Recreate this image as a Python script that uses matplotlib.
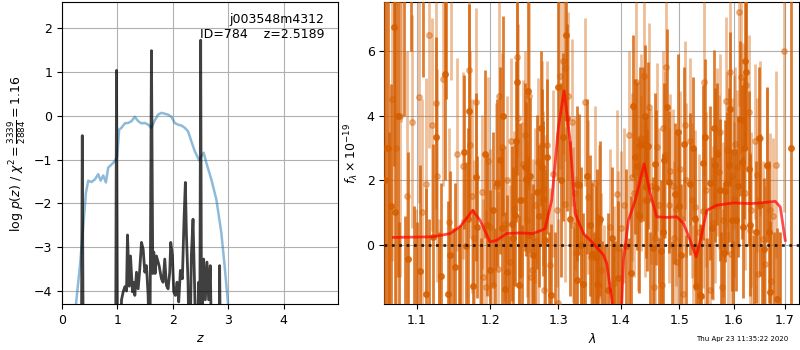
import matplotlib
matplotlib.use('Agg')
import matplotlib.pyplot as plt
import numpy as np

# ---- left panel: redshift probability ----
z_pdf = [0.20, 0.348, 0.366, 0.384, 0.966, 0.984, 1.002, 1.044, 1.074, 1.104, 1.134,
         1.164, 1.182, 1.212, 1.236, 1.272, 1.296, 1.314, 1.344, 1.374, 1.404, 1.434,
         1.464, 1.494, 1.524, 1.554, 1.584, 1.614, 1.638, 1.656, 1.680, 1.704, 1.752,
         1.794, 1.824, 1.854, 1.884, 1.914, 1.944, 1.962, 1.992, 2.016, 2.046, 2.076,
         2.106, 2.136, 2.172, 2.202, 2.226, 2.244, 2.274, 2.304, 2.334, 2.364, 2.394,
         2.424, 2.466, 2.484, 2.502, 2.520, 2.544, 2.556, 2.586, 2.616, 2.646, 2.676,
         2.706, 2.832, 2.844, 2.862, 3.00]
logp = [-6.0, -6.0, -0.45, -6.0, -6.0, 1.04, -6.0, -6.0, -4.20, -4.02, -3.90,
        -4.00, -2.72, -3.89, -3.20, -4.02, -3.80, -4.10, -3.57, -3.95, -3.49, -2.89,
        -3.04, -3.57, -3.42, -4.10, -6.0, 1.49, -3.60, -3.11, -3.60, -3.20, -3.42,
        -3.72, -3.80, -3.27, -3.87, -3.95, -3.57, -2.89, -3.19, -4.02, -4.10, -3.80,
        -4.25, -3.53, -3.72, -2.36, -1.52, -2.66, -3.80, -6.0, -3.19, -2.36, -3.95,
        -6.0, -3.80, -6.0, 1.73, -6.0, -3.60, -3.27, -4.20, -3.34, -4.20, -3.42,
        -6.0, -6.0, -3.42, -6.0, -6.0]

z_chi = [0.20, 0.252, 0.324, 0.384, 0.432, 0.474, 0.534, 0.594, 0.654, 0.696, 0.744,
         0.792, 0.834, 0.894, 0.954, 0.996, 1.032, 1.074, 1.134, 1.194, 1.254, 1.314,
         1.374, 1.434, 1.494, 1.554, 1.614, 1.674, 1.734, 1.794, 1.854, 1.914, 1.974,
         2.034, 2.094, 2.154, 2.214, 2.274, 2.334, 2.394, 2.472, 2.514, 2.556, 2.604,
         2.694, 2.784, 2.874, 2.934, 2.994, 3.05]
chi_norm = [-6.0, -4.30, -3.42, -2.51, -1.75, -1.48, -1.51, -1.45, -1.33, -1.48, -1.36,
            -1.52, -1.18, -1.11, -1.03, -0.92, -0.31, -0.27, -0.17, -0.16, -0.12, -0.02,
            -0.12, -0.17, -0.16, -0.20, -0.27, -0.10, 0.03, 0.07, 0.05, 0.03, -0.02,
            -0.16, -0.20, -0.22, -0.27, -0.35, -0.58, -0.80, -1.01, -0.92, -0.84, -1.07,
            -1.45, -1.90, -2.66, -3.42, -4.27, -6.0]

# ---- right panel: 1D spectrum (G141, two beams) ----
wave_a = [1.0597, 1.0650, 1.0675, 1.0710, 1.0760, 1.0830, 1.0888, 1.0960, 1.1039, 1.1117,
          1.1218, 1.1258, 1.1324, 1.1370, 1.1414, 1.1445, 1.1505, 1.1560, 1.1633, 1.1660,
          1.1706, 1.1752, 1.1795, 1.1817, 1.1958, 1.2039, 1.2100, 1.2139, 1.2187, 1.2211,
          1.2245, 1.2307, 1.2331, 1.2355, 1.2389, 1.2418, 1.2428, 1.2502, 1.2517, 1.2551,
          1.2576, 1.2616, 1.2676, 1.2715, 1.2751, 1.2775, 1.2801, 1.2836, 1.2888, 1.3005,
          1.3083, 1.3145, 1.3186, 1.3291, 1.3301, 1.3332, 1.3396, 1.3449, 1.3501, 1.3528,
          1.3597, 1.3608, 1.3624, 1.3700, 1.3798, 1.3870, 1.3951, 1.4084, 1.4173, 1.4229,
          1.4269, 1.4324, 1.4364, 1.4422, 1.4439, 1.4456, 1.4535, 1.4598, 1.4679, 1.4742,
          1.4794, 1.4824, 1.4930, 1.4977, 1.5037, 1.5090, 1.5197, 1.5275, 1.5305, 1.5378,
          1.5396, 1.5427, 1.5457, 1.5561, 1.5635, 1.5650, 1.5733, 1.5808, 1.5840, 1.5872,
          1.5902, 1.5965, 1.6047, 1.6110, 1.6156, 1.6168, 1.6219, 1.6238, 1.6282, 1.6315,
          1.6432, 1.6510, 1.6588, 1.6641, 1.6706, 1.6840, 1.7118]
flux_a = [2.00, -2.50, 1.19, 6.75, 4.00, 8.50, -0.44, -2.60, -0.82, -1.54,
          0.22, 3.35, -0.98, 5.30, -1.55, -0.33, -0.69, -2.40, 2.87, -0.05,
          4.15, -1.29, 2.09, 0.55, 0.60, 1.08, 1.92, 2.61, 3.98, -1.39,
          -0.85, 0.65, 0.21, 0.91, 5.05, -1.27, 1.37, 2.40, 2.03, 4.75,
          2.13, -0.33, 1.63, 0.88, 2.42, 1.42, 0.13, 2.73, -1.57, 4.90,
          3.33, 3.93, 0.80, -1.10, 1.89, 1.86, -1.23, 2.11, 0.59, -0.28,
          -0.40, 0.15, -1.26, -2.30, -1.41, -2.50, -1.05, -0.05, -0.88, 2.73,
          2.43, 3.10, 3.12, 1.78, 1.37, 3.07, -0.12, 1.76, -0.20, 2.61,
          4.28, 1.94, 1.58, 3.50, -0.33, 3.12, 1.89, 0.80, -1.29, -1.57,
          -1.59, 2.54, 3.35, 1.91, 3.62, 2.47, 1.70, -0.26, 1.66, 1.91,
          2.47, 0.77, 0.75, 3.90, 2.56, 0.55, 5.70, 5.34, 2.35, 0.60,
          0.39, 1.22, -0.15, 2.48, -1.46, -1.70, 3.00]
err_a = [30.0, 6.0, 3.8, 4.3, 5.0, 4.5, 3.3, 3.8, 3.3, 3.3,
         2.9, 3.1, 2.9, 3.3, 2.9, 2.6, 2.6, 2.9, 2.4, 2.6,
         3.3, 2.4, 2.6, 2.2, 2.2, 2.4, 2.6, 2.9, 3.1, 2.4,
         2.4, 2.4, 2.2, 2.2, 2.9, 2.2, 2.4, 2.6, 2.4, 2.9,
         2.4, 2.2, 2.4, 2.2, 2.4, 2.4, 2.2, 2.4, 2.2, 2.9,
         2.6, 2.9, 2.4, 2.2, 2.4, 2.2, 2.2, 2.4, 2.2, 2.2,
         2.2, 2.2, 2.2, 2.4, 2.4, 2.6, 2.4, 2.4, 2.4, 2.4,
         2.6, 2.4, 2.4, 2.2, 2.2, 2.6, 2.2, 2.4, 2.2, 2.4,
         2.4, 2.2, 2.2, 2.4, 2.2, 2.4, 2.2, 2.2, 2.2, 2.2,
         2.2, 2.4, 2.4, 2.4, 2.4, 2.4, 2.2, 2.2, 2.2, 2.2,
         2.4, 2.2, 2.2, 2.4, 2.4, 2.2, 2.6, 2.4, 2.4, 2.2,
         2.2, 2.2, 2.2, 2.4, 2.2, 2.2, 30.0]

# beam A pixels whose points fall outside the plotted flux range
wave_a_off = [1.0630, 1.0720, 1.0770, 1.0850, 1.0920, 1.1000, 1.1080, 1.1160, 1.1290, 1.1390,
              1.1480, 1.1580, 1.1690, 1.1870, 1.1920, 1.2000, 1.2060, 1.2160, 1.2270, 1.2370,
              1.2460, 1.2540, 1.2650, 1.2740, 1.2860, 1.2950, 1.3050, 1.3120, 1.3240, 1.3360,
              1.3420, 1.3560, 1.3660, 1.3740, 1.3850, 1.3900, 1.4010, 1.4130, 1.4200, 1.4300,
              1.4400, 1.4490, 1.4570, 1.4640, 1.4720, 1.4880, 1.5000, 1.5130, 1.5240, 1.5340,
              1.5510, 1.5590, 1.5690, 1.5760, 1.5930, 1.5990, 1.6080, 1.6200, 1.6380, 1.6480,
              1.6550, 1.6680, 1.6770, 1.6900]
flux_a_off = [3.0, 1.0, -2.8, -2.3, 9.5, -2.5, 8.4, -2.2, -2.6, 9.0,
              -2.1, -2.0, 0.8, -2.4, 2.8, -0.8, -2.1, 0.5, -2.3, 3.2,
              -2.0, 0.3, -2.4, 3.6, -2.2, -2.0, 2.0, 6.5, -2.1, 0.0,
              -2.3, -2.0, 0.8, -2.6, 0.2, -2.3, -2.5, -2.2, 4.3, 0.9,
              4.0, -2.0, 2.5, -2.2, 0.4, -2.3, 1.2, -2.1, 3.0, -2.4,
              -2.2, 0.5, 2.8, -2.0, 4.2, -2.3, 1.8, 3.0, -2.1, 3.3,
              -2.5, 0.4, -2.0, -2.6]
err_a_off = [8.0, 7.0, 3.5, 3.2, 3.5, 3.2, 3.2, 3.0, 3.0, 4.5,
             2.6, 2.6, 2.8, 2.6, 2.6, 2.5, 2.6, 2.5, 2.6, 2.5,
             2.6, 2.4, 2.6, 2.4, 2.6, 2.4, 3.0, 2.5, 2.6, 2.4,
             2.6, 2.4, 2.4, 2.6, 2.2, 2.4, 2.4, 2.4, 2.2, 2.4,
             2.2, 2.4, 2.2, 2.4, 2.4, 2.4, 2.2, 2.4, 2.2, 2.4,
             2.4, 2.2, 2.2, 2.4, 2.4, 2.4, 2.2, 2.2, 2.4, 2.2,
             2.4, 2.2, 2.4, 3.0]

wave_b = [1.0740, 1.0800, 1.0944, 1.1033, 1.1126, 1.1205, 1.1258, 1.1270, 1.1351, 1.1427,
          1.1624, 1.1706, 1.1712, 1.1772, 1.1804, 1.1887, 1.1892, 1.1935, 1.1996, 1.2034,
          1.2114, 1.2120, 1.2163, 1.2211, 1.2235, 1.2283, 1.2341, 1.2380, 1.2395, 1.2462,
          1.2476, 1.2536, 1.2566, 1.2601, 1.2626, 1.2651, 1.2701, 1.2751, 1.2776, 1.2786,
          1.2827, 1.2877, 1.2979, 1.3030, 1.3072, 1.3108, 1.3113, 1.3212, 1.3225, 1.3280,
          1.3428, 1.3475, 1.3618, 1.3646, 1.3678, 1.3825, 1.3935, 1.3962, 1.4061, 1.4195,
          1.4251, 1.4285, 1.4341, 1.4381, 1.4398, 1.4467, 1.4552, 1.4610, 1.4650, 1.4696,
          1.4754, 1.4772, 1.4812, 1.4842, 1.4883, 1.4942, 1.4959, 1.5019, 1.5060, 1.5096,
          1.5185, 1.5228, 1.5287, 1.5420, 1.5439, 1.5487, 1.5548, 1.5610, 1.5684, 1.5715,
          1.5778, 1.5797, 1.5859, 1.5872, 1.5922, 1.5947, 1.5966, 1.5997, 1.6029, 1.6061,
          1.6093, 1.6174, 1.6238, 1.6282, 1.6302, 1.6329, 1.6413, 1.6446, 1.6458, 1.6563,
          1.6641, 1.6692, 1.6719, 1.6825, 1.6970]
flux_b = [3.00, 7.80, 3.81, 4.59, 1.87, 3.72, 4.39, 2.14, 5.13, 0.70,
          2.45, 5.41, 3.09, 0.21, 4.43, 1.63, -1.00, -1.33, 0.55, -1.26,
          -0.77, 4.62, 3.04, 0.65, 2.01, -0.54, 1.11, 5.82, 3.93, 1.39,
          2.51, 0.77, 4.60, -0.79, 0.24, 1.22, 2.56, 3.10, 1.73, -1.41,
          3.10, -0.64, 1.08, 5.24, 5.70, 5.49, 1.25, 3.79, 0.62, -0.26,
          4.43, 1.47, -1.23, 0.70, -0.79, 0.55, 1.56, -0.12, 1.22, 2.09,
          5.05, 0.96, 3.30, 5.24, 1.39, 4.26, -1.31, 3.02, 1.22, -1.26,
          2.79, 5.52, 1.22, 2.28, 1.80, 1.11, -0.54, 2.35, -1.52, 3.71,
          3.20, 1.37, 1.16, 1.04, 5.05, 1.70, -1.41, 0.67, 2.87, 2.25,
          -1.31, 0.77, 4.46, 2.94, 5.36, -0.30, 2.14, 2.87, 3.12, 2.40,
          7.20, 3.85, 4.95, 4.10, 0.46, 1.08, 3.20, 2.16, -0.92, 0.18,
          2.45, 1.06, -1.12, 2.48, 6.00]
err_b = [6.0, 4.0, 3.3, 3.3, 3.3, 3.3, 3.3, 3.3, 3.3, 2.9,
         2.9, 2.9, 2.9, 2.4, 2.9, 2.4, 2.4, 2.4, 2.4, 2.4,
         2.4, 2.9, 2.9, 2.4, 2.6, 2.4, 2.4, 3.1, 2.9, 2.4,
         2.6, 2.4, 2.9, 2.4, 2.4, 2.4, 2.6, 2.6, 2.4, 2.4,
         2.6, 2.4, 2.4, 2.9, 2.9, 2.9, 2.4, 2.6, 2.4, 2.4,
         2.6, 2.4, 2.4, 2.4, 2.4, 2.4, 2.6, 2.4, 2.4, 2.6,
         2.9, 2.4, 2.6, 2.9, 2.4, 2.6, 2.4, 2.6, 2.4, 2.4,
         2.6, 2.9, 2.4, 2.4, 2.4, 2.4, 2.4, 2.4, 2.4, 2.6,
         2.6, 2.4, 2.4, 2.4, 2.9, 2.4, 2.4, 2.4, 2.6, 2.4,
         2.4, 2.4, 2.6, 2.4, 2.9, 2.4, 2.4, 2.4, 2.4, 2.4,
         2.9, 2.4, 2.6, 2.4, 2.4, 2.4, 2.4, 2.4, 2.4, 2.4,
         2.4, 2.4, 2.4, 2.9, 5.0]

wave_b_off = [1.0610, 1.0680, 1.0790, 1.0870, 1.0990, 1.1070, 1.1160, 1.1300, 1.1460, 1.1540,
              1.1600, 1.1740, 1.1850, 1.1960, 1.2080, 1.2190, 1.2300, 1.2420, 1.2500, 1.2590,
              1.2690, 1.2800, 1.2920, 1.3000, 1.3160, 1.3260, 1.3350, 1.3520, 1.3580, 1.3730,
              1.3880, 1.4000, 1.4130, 1.4220, 1.4330, 1.4510, 1.4580, 1.4720, 1.4900, 1.4990,
              1.5130, 1.5250, 1.5350, 1.5470, 1.5650, 1.5750, 1.5900, 1.6010, 1.6130, 1.6210,
              1.6350, 1.6500, 1.6600, 1.6760, 1.6880]
flux_b_off = [3.0, 4.5, 4.0, 1.5, -2.4, 1.0, 6.5, -2.2, 8.6, 2.8,
              -2.2, 1.5, -2.3, 2.6, 1.8, -2.3, 3.2, -2.2, 3.4, -1.0,
              -2.4, 1.0, 2.2, -1.8, 4.6, 1.6, -2.2, -0.4, 1.9, -2.0,
              -1.2, 0.5, 3.4, 1.6, 2.2, 1.8, 0.2, 3.6, 0.2, -2.2,
              2.0, -2.0, 0.4, -2.2, 1.2, 3.5, -2.0, 1.4, 5.2, 1.6,
              -2.1, 3.3, -0.6, 0.9, -2.2]
err_b_off = [6.0, 5.0, 5.0, 4.5, 3.5, 3.5, 3.5, 3.0, 3.5, 3.0,
             3.0, 3.0, 2.8, 2.6, 2.6, 2.6, 2.6, 2.6, 2.6, 2.6,
             2.6, 2.4, 2.6, 2.6, 2.6, 2.4, 2.6, 2.4, 2.4, 2.6,
             2.4, 2.4, 2.6, 2.6, 2.4, 2.4, 2.4, 2.4, 2.4, 2.4,
             2.4, 2.6, 2.4, 2.4, 2.4, 2.4, 2.4, 2.4, 2.4, 2.4,
             2.4, 2.4, 2.4, 2.4, 2.6]

wave_model = [1.0701, 1.1219, 1.1442, 1.1578, 1.1752, 1.1855, 1.1996, 1.2090, 1.2233,
              1.2428, 1.2626, 1.2801, 1.2903, 1.3005, 1.3093, 1.3186, 1.3265, 1.3396,
              1.3555, 1.3717, 1.3771, 1.3853, 1.3900, 1.4000, 1.4045, 1.4128, 1.4240,
              1.4324, 1.4392, 1.4494, 1.4609, 1.4783, 1.4959, 1.5077, 1.5197, 1.5305,
              1.5408, 1.5499, 1.5684, 1.5996, 1.6314, 1.6508, 1.6804, 1.6904, 1.7003]
flux_model = [0.22, 0.24, 0.34, 0.55, 1.06, 0.75, 0.08, 0.13, 0.34,
              0.36, 0.34, 0.49, 1.37, 3.64, 4.77, 3.23, 0.96, 0.34,
              0.03, -0.33, -0.59, -1.72, -2.60, -2.60, -0.48, 0.75, 1.37,
              1.99, 2.50, 1.58, 0.86, 0.84, 0.86, 0.65, 0.13, -0.38,
              0.34, 1.06, 1.22, 1.29, 1.27, 1.29, 1.34, 1.16, 0.13]

xticks_lam = [1.1, 1.2, 1.3, 1.4, 1.5, 1.6, 1.7]
g141_color = (0.8352941176470589, 0.3686274509803922, 0.0)

plt.rcParams['font.size'] = 9

fig = plt.figure(figsize=(8, 3.5), dpi=100)

# p(z) panel
ax = fig.add_axes([0.0775, 0.131, 0.345, 0.863])
ax.plot(z_chi, chi_norm, color='tab:blue', alpha=0.5, lw=1.8)
ax.plot(z_pdf, logp, color='k', alpha=0.75, lw=2)
ax.set_xlim(0, 4.98)
ax.set_ylim(-4.3, 2.6)
ax.set_xticks([0, 1, 2, 3, 4])
ax.set_yticks([-4, -3, -2, -1, 0, 1, 2])
ax.grid(True)
ax.set_xlabel('$z$')
ax.set_ylabel(r'log $p(z)$ / $\chi^2=\frac{3339}{2884}=1.16$')
ax.text(0.95, 0.965, 'j003548m4312\nID=784    z=2.5189', transform=ax.transAxes,
        ha='right', va='top', multialignment='right')

# spectrum panel
ax2 = fig.add_axes([0.4804, 0.131, 0.5188, 0.863])
ax2.errorbar(wave_b + wave_b_off, flux_b + flux_b_off, yerr=err_b + err_b_off,
             color=g141_color, alpha=0.4, marker='o', ms=4, linestyle='None',
             elinewidth=2, zorder=3)
ax2.errorbar(wave_a + wave_a_off, flux_a + flux_a_off, yerr=err_a + err_a_off,
             color=g141_color, alpha=0.8, marker='o', ms=4, linestyle='None',
             elinewidth=2, zorder=3)
ax2.plot(wave_model, flux_model, color='r', alpha=0.7, lw=2, zorder=5)
ax2.axhline(0, color='k', linestyle=':', lw=2, alpha=0.8, zorder=6)
ax2.set_xscale('log')
ax2.set_xlim(1.0587, 1.7289)
ax2.set_ylim(-1.85, 7.52)
ax2.set_xticks(xticks_lam)
ax2.set_xticklabels([str(t) for t in xticks_lam])
ax2.xaxis.set_minor_locator(matplotlib.ticker.NullLocator())
ax2.set_yticks([0, 2, 4, 6])
ax2.grid(True)
ax2.set_xlabel(r'$\lambda$')
ax2.set_ylabel(r'$f_\lambda\times10^{-19}$')

fig.text(0.985, 0.03, 'Thu Apr 23 11:35:22 2020', ha='right', va='center', fontsize=5)

fig.savefig('out.png', dpi=100)
